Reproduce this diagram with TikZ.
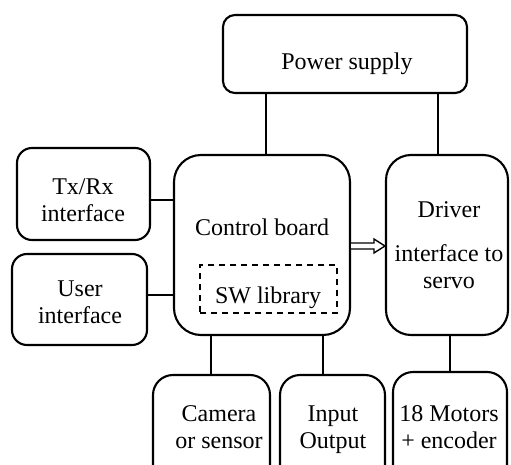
\documentclass[tikz,border=0pt]{standalone}
\usepackage{fontspec}
\setmainfont{Liberation Serif}
\usetikzlibrary{calc}
\begin{document}
\begin{tikzpicture}[x=1pt,y=-1pt,
  box/.style={draw, line width=2.1pt, rounded corners=#1, inner sep=0pt, rectangle},
  box/.default=15pt,
  conn/.style={line width=1.6pt},
  txt/.style={font=\fontsize{24}{27}\selectfont, align=center, inner sep=0pt},
  swbox/.style={draw, line width=1.6pt, dash pattern=on 6pt off 5pt, inner sep=0pt, rectangle},
  hollow/.style={line width=1.4pt, fill=white, line join=miter}]
\useasboundingbox (0,0) rectangle (511,465);
\clip (0,0) rectangle (511,465);

% boxes
\node[box=12pt, minimum width=244pt, minimum height=78pt] (power) at (345,54) {};
\node[box=15pt, minimum width=133pt, minimum height=92pt] (txrx) at (83.5,194) {};
\node[box=15pt, minimum width=135pt, minimum height=91pt] (user) at (79.5,299.5) {};
\node[box=27pt, minimum width=176pt, minimum height=180pt] (control) at (262,245) {};
\node[swbox, minimum width=137pt, minimum height=48pt] (sw) at (268.5,289) {};
\node[box=25pt, minimum width=122pt, minimum height=180pt] (driver) at (447,245) {};
\node[box=20pt, minimum width=117pt, minimum height=120pt] (camera) at (211.5,435) {};
\node[box=20pt, minimum width=105pt, minimum height=120pt] (io) at (332.5,435) {};
\node[box=20pt, minimum width=114pt, minimum height=123pt] (motors) at (450,433.5) {};

% texts
\node[txt, anchor=base] (powert) at (347,70) {Power supply};
\node[txt] (txrxt) at (83,200) {Tx/Rx\\interface};
\node[txt] (usert) at (80,302) {User\\interface};
\node[txt, anchor=base] (controlt) at (262,235) {Control board};
\node[txt, anchor=base] (swt) at (268,303) {SW library};
\node[txt] (drivert) at (449,245) {Driver\\[17pt]interface to\\servo};
\node[txt] (camerat) at (219,427.5) {Camera\\or sensor};
\node[txt] (iot) at (333,430) {Input\\Output};
\node[txt] (motorst) at (449,427.5) {18 Motors\\+ encoder};

% helper coordinates
\coordinate (xa) at (266,0);
\coordinate (xb) at (438,0);
\coordinate (xc) at (211,0);
\coordinate (xd) at (323,0);
\coordinate (xe) at (450,0);
\coordinate (ya) at (0,200);
\coordinate (yb) at (0,295);
\coordinate (yc) at (0,246);

% connectors
\draw[conn] (power.south -| xa) -- (control.north -| xa);
\draw[conn] (power.south -| xb) -- (driver.north -| xb);
\draw[conn] (txrx.east |- ya) -- (control.west |- ya);
\draw[conn] (user.east |- yb) -- (control.west |- yb);
\draw[conn] (control.south -| xc) -- (camera.north -| xc);
\draw[conn] (control.south -| xd) -- (io.north -| xd);
\draw[conn] (driver.south -| xe) -- (motors.north -| xe);

% hollow arrow from control board to driver
\coordinate (as) at (control.east |- yc);
\coordinate (at) at (driver.west |- yc);
\draw[hollow] ($(as)+(0,-3)$) -- ($(at)+(-11,-3)$) -- ($(at)+(-11,-7)$) -- (at)
  -- ($(at)+(-11,7)$) -- ($(at)+(-11,3)$) -- ($(as)+(0,3)$);
\end{tikzpicture}
\end{document}
